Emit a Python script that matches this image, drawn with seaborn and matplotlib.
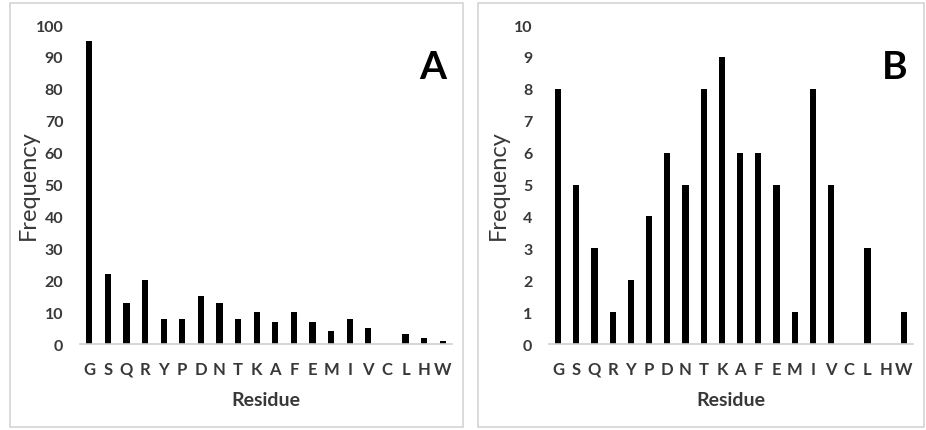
import matplotlib
matplotlib.use('Agg')
import matplotlib.pyplot as plt
import seaborn as sns
import pandas as pd
from matplotlib.patches import Rectangle

residues = ['G', 'S', 'Q', 'R', 'Y', 'P', 'D', 'N', 'T', 'K',
            'A', 'F', 'E', 'M', 'I', 'V', 'C', 'L', 'H', 'W']
freq_a = [95, 22, 13, 20, 8, 8, 15, 13, 8, 10, 7, 10, 7, 4, 8, 5, 0, 3, 2, 1]
freq_b = [8, 5, 3, 1, 2, 4, 6, 5, 8, 9, 6, 6, 5, 1, 8, 5, 0, 3, 0, 1]
yticks_a = list(range(0, 101, 10))
yticks_b = list(range(0, 11, 1))

sns.set_style('white')
plt.rcParams['font.family'] = ['Lato', 'DejaVu Sans']

txt = '#383838'
fig = plt.figure(figsize=(9.26, 4.31), dpi=100)

# panel frames
for x0, x1 in [(10, 463), (478, 924)]:
    fig.patches.append(Rectangle((x0 / 926, 3 / 431), (x1 - x0) / 926, 424 / 431,
                                 transform=fig.transFigure, fill=False,
                                 edgecolor='#d4d4d4', lw=1.2))

panels = [
    (freq_a, yticks_a, 'A', [80 / 926, 0.1995, 372 / 926, 0.740]),
    (freq_b, yticks_b, 'B', [549 / 926, 0.1995, 364 / 926, 0.740]),
]

for vals, yt, tag, pos in panels:
    ax = fig.add_axes(pos)
    df = pd.DataFrame({'Residue': residues, 'Frequency': vals})
    sns.barplot(data=df, x='Residue', y='Frequency', color='black',
                width=0.34, saturation=1, linewidth=0, ax=ax)
    ax.set_xlim(-0.5, len(residues) - 0.5)
    ax.set_ylim(0, yt[-1])
    ax.set_yticks(yt)
    ax.set_yticklabels([str(v) for v in yt], fontsize=11.5, fontweight='bold', color=txt)
    ax.set_xticklabels(residues, fontsize=12, fontweight='bold', color=txt)
    ax.tick_params(axis='both', length=0)
    ax.tick_params(axis='x', pad=12)
    ax.tick_params(axis='y', pad=12)
    for s in ['top', 'right', 'left']:
        ax.spines[s].set_visible(False)
    ax.spines['bottom'].set_color('#d0d0d0')
    ax.spines['bottom'].set_linewidth(1.2)
    ax.set_xlabel('Residue', fontsize=14, fontweight='bold', color=txt, labelpad=10)
    ax.set_ylabel('Frequency', fontsize=17, color=txt)
    ax.yaxis.set_label_coords(-0.11, 0.5)
    ax.text(0.985, 0.87, tag, transform=ax.transAxes, ha='right', va='center',
            fontsize=28, fontweight='bold', color='black')

fig.savefig('out.png', dpi=100)
